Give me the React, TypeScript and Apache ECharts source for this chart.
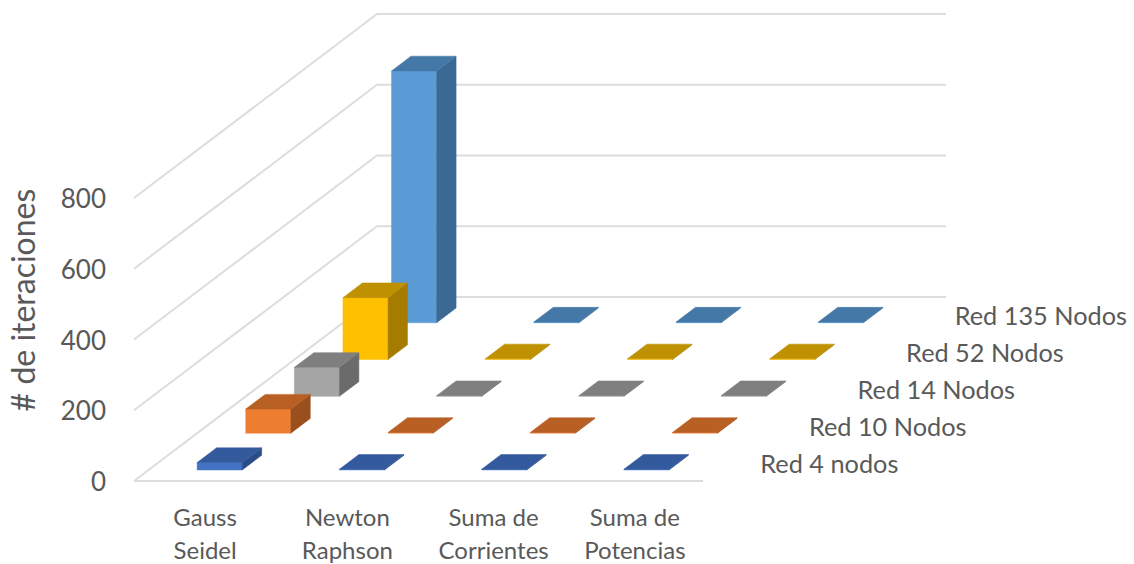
import React, { useEffect, useRef } from "react";
import * as echarts from "echarts";

const categories = ["Gauss\nSeidel", "Newton\nRaphson", "Suma de\nCorrientes", "Suma de\nPotencias"];
const networks = ["Red 4 nodos", "Red 10 Nodos", "Red 14 Nodos", "Red 52 Nodos", "Red 135 Nodos"];
const valueTicks = [0, 200, 400, 600, 800];

const red4 = [21, 2, 2, 2];
const red10 = [68, 2, 2, 2];
const red14 = [82, 2, 2, 2];
const red52 = [175, 2, 2, 2];
const red135 = [712, 2, 2, 2];
const seriesValues = [red4, red10, red14, red52, red135];

// front, top and side shades of each network's boxes
const frontColors = ["#4472C4", "#ED7D31", "#A5A5A5", "#FFC000", "#5B9BD5"];
const topColors = ["#345A9E", "#B85F24", "#7F7F7F", "#BF9000", "#4478A7"];
const sideColors = ["#2C4C86", "#9A501C", "#6B6B6B", "#A67C00", "#3A6A94"];

// the wrapped category labels do not sit exactly on their band centres
const categoryLabelPads = [0, 0, 8, 6];

// oblique projection: one network row moves this far right and up
const ROW_DX = 48.6;
const ROW_DY = 36.8;
const BAR_START = 0.3;
const BAR_DEPTH = 0.4;
const BAR_WIDTH = 0.317;
const TEXT = "#595959";
const FONT = "Lato";
const GRID_COLOR = "#DDDDDD";

const boxSeries = (s: number) => ({
  type: "custom",
  name: networks[s],
  coordinateSystem: "cartesian2d",
  encode: { x: 0, y: 1 },
  data: seriesValues[s].map((v, i) => [i, v]),
  renderItem: (_: any, api: any) => {
    const band = api.size([1, 0])[0];
    const top = api.coord([api.value(0), api.value(1)]);
    const base = api.coord([api.value(0), 0]);
    const half = (band * BAR_WIDTH) / 2;
    const ox = (d: number) => d * ROW_DX;
    const oy = (d: number) => -d * ROW_DY;
    const f = s + BAR_START;
    const b = f + BAR_DEPTH;
    const at = (xSign: number, d: number, p: number[]) => [p[0] + xSign * half + ox(d), p[1] + oy(d)];
    const poly = (points: number[][], fill: string) => ({
      type: "polygon",
      shape: { points },
      style: { fill, stroke: fill, lineWidth: 0.5 },
    });
    return {
      type: "group",
      children: [
        poly([at(-1, f, top), at(1, f, top), at(1, f, base), at(-1, f, base)], frontColors[s]),
        poly([at(1, f, top), at(1, b, top), at(1, b, base), at(1, f, base)], sideColors[s]),
        poly([at(-1, f, top), at(1, f, top), at(1, b, top), at(-1, b, top)], topColors[s]),
      ],
    };
  },
});

// walls: gridlines run along the side wall and then across the back wall
const wallSeries = {
  type: "custom",
  name: "walls",
  coordinateSystem: "cartesian2d",
  encode: { x: 0, y: 1 },
  silent: true,
  data: valueTicks.map((t) => [0, t]),
  renderItem: (_: any, api: any) => {
    const band = api.size([1, 0])[0];
    const p = api.coord([0, api.value(1)]);
    const left = p[0] - band / 2;
    const backX = left + networks.length * ROW_DX;
    const backY = p[1] - networks.length * ROW_DY;
    const children: any[] = [
      {
        type: "polyline",
        shape: {
          points: [
            [left, p[1]],
            [backX, backY],
            [backX + band * categories.length, backY],
          ],
        },
        style: { fill: "none", stroke: GRID_COLOR, lineWidth: 2 },
      },
    ];
    if (api.value(1) === 0) {
      children.push({
        type: "line",
        shape: { x1: left, y1: p[1], x2: left + band * categories.length, y2: p[1] },
        style: { stroke: GRID_COLOR, lineWidth: 2 },
      });
    }
    return { type: "group", children };
  },
};

// network names along the right edge of the floor
const rowLabelSeries = {
  type: "custom",
  name: "rows",
  coordinateSystem: "cartesian2d",
  encode: { x: 0, y: 1 },
  silent: true,
  data: networks.map((_, s) => [categories.length - 1, 0, s]),
  renderItem: (_: any, api: any) => {
    const band = api.size([1, 0])[0];
    const p = api.coord([api.value(0), 0]);
    const s = api.value(2);
    return {
      type: "text",
      x: p[0] + band / 2 + (s + 0.5) * ROW_DX + 33,
      y: p[1] - (s + 0.5) * ROW_DY,
      style: {
        text: networks[s],
        fill: TEXT,
        font: `25.3px ${FONT}`,
        textAlign: "left",
        textVerticalAlign: "middle",
      },
    };
  },
};

export default function App() {
  const ref = useRef<HTMLDivElement>(null);
  useEffect(() => {
    document.body.style.margin = "0";
    const chart = echarts.init(ref.current!, undefined, { renderer: "svg" });
    chart.setOption({
      animation: false,
      backgroundColor: "#FFFFFF",
      grid: { left: 134, top: 198, width: 569, height: 283, outerBoundsMode: "none" },
      xAxis: {
        type: "category",
        data: categories.map((value, i) => ({
          value,
          textStyle: { padding: [0, 0, 0, categoryLabelPads[i]] },
        })),
        axisLine: { show: false },
        axisTick: { show: false },
        axisLabel: { color: TEXT, fontFamily: FONT, fontSize: 24, lineHeight: 33, margin: 19, interval: 0 },
      },
      yAxis: {
        type: "value",
        min: 0,
        max: 800,
        interval: 200,
        splitLine: { show: false },
        axisLine: { show: false },
        axisTick: { show: false },
        axisLabel: { color: TEXT, fontFamily: FONT, fontSize: 26, margin: 28 },
      },
      graphic: [
        {
          type: "text",
          x: 22,
          y: 300,
          rotation: Math.PI / 2,
          style: {
            text: "# de iteraciones",
            fill: TEXT,
            font: `32px ${FONT}`,
            textAlign: "center",
            textVerticalAlign: "middle",
          },
        },
      ],
      series: [
        wallSeries,
        ...[4, 3, 2, 1, 0].map(boxSeries),
        rowLabelSeries,
      ],
    });
    return () => chart.dispose();
  }, []);
  return <div ref={ref} style={{ width: 1134, height: 564 }} />;
}
